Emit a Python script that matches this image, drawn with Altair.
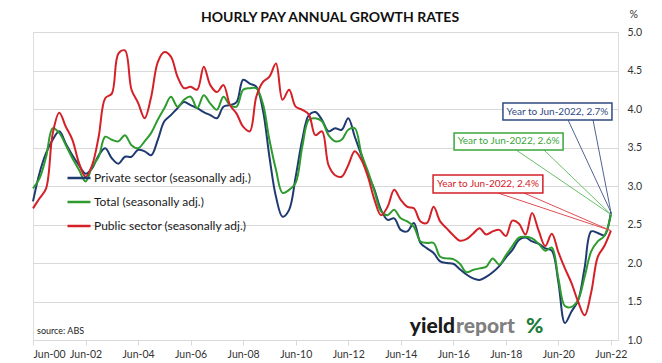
import altair as alt
import pandas as pd

# ---------------- data ----------------
series_names = [
    "Private sector (seasonally adj.)",
    "Total (seasonally adj.)",
    "Public sector (seasonally adj.)",
]
series_colors = ["#1F3A70", "#2E9B2E", "#D42027"]

# quarters, in years after Jun-2000 (Jun-00 ... Jun-22)
quarters = [i / 4 for i in range(89)]

private = [
    2.80, 3.17, 3.43, 3.60,
    3.71, 3.55, 3.40, 3.27,
    3.16, 3.23, 3.40, 3.49,
    3.36, 3.29, 3.38, 3.38,
    3.47, 3.45, 3.40, 3.60,
    3.84, 3.92, 4.01, 4.09,
    4.05, 4.01, 3.96, 3.92,
    3.88, 4.03, 4.05, 4.09,
    4.38, 4.33, 4.29, 3.99,
    3.38, 2.86, 2.60, 2.69,
    3.12, 3.60, 3.92, 3.96,
    3.86, 3.71, 3.75, 3.73,
    3.88, 3.64, 3.40, 3.16,
    2.95, 2.69, 2.56, 2.58,
    2.43, 2.41, 2.52, 2.26,
    2.19, 2.13, 2.02, 2.00,
    1.99, 1.92, 1.85, 1.80,
    1.78, 1.82, 1.88, 1.96,
    2.07, 2.17, 2.30, 2.33,
    2.28, 2.25, 2.19, 2.16,
    1.75, 1.22, 1.37, 1.51,
    1.94, 2.41, 2.39, 2.36,
    2.66,
]
total = [
    2.97, 3.10, 3.38, 3.75,
    3.69, 3.53, 3.36, 3.21,
    3.06, 3.25, 3.38, 3.64,
    3.60, 3.58, 3.66, 3.53,
    3.49, 3.58, 3.69, 3.86,
    4.01, 4.16, 4.03, 4.12,
    4.16, 4.01, 4.18, 4.07,
    3.99, 4.16, 4.05, 4.03,
    4.25, 4.27, 4.27, 4.07,
    3.60, 3.21, 2.91, 2.95,
    3.04, 3.51, 3.86, 3.88,
    3.84, 3.66, 3.58, 3.60,
    3.73, 3.75, 3.42, 3.19,
    2.93, 2.67, 2.62, 2.69,
    2.58, 2.54, 2.47, 2.28,
    2.26, 2.26, 2.08, 2.06,
    2.05, 1.99, 1.88, 1.91,
    1.93, 1.95, 2.06, 1.98,
    2.10, 2.22, 2.33, 2.34,
    2.32, 2.25, 2.16, 2.20,
    1.80, 1.44, 1.43, 1.52,
    1.82, 2.15, 2.28, 2.35,
    2.63,
]
public = [
    2.71, 2.84, 2.97, 3.68,
    3.95, 3.77, 3.60, 3.30,
    3.12, 3.27, 3.64, 4.14,
    4.20, 4.72, 4.76, 4.25,
    4.08, 3.88, 4.16, 4.61,
    4.74, 4.68, 4.42, 4.27,
    4.29, 4.25, 4.55, 4.31,
    4.22, 4.31, 4.05, 3.94,
    3.77, 3.71, 4.16, 4.35,
    4.42, 4.59, 4.12, 4.25,
    4.03, 3.99, 3.93, 3.66,
    3.71, 3.27, 3.14, 3.12,
    3.27, 3.45, 3.34, 3.12,
    2.82, 2.62, 2.73, 2.95,
    2.82, 2.73, 2.71, 2.54,
    2.52, 2.73, 2.54, 2.45,
    2.36, 2.29, 2.31, 2.38,
    2.45, 2.37, 2.41, 2.43,
    2.35, 2.55, 2.51, 2.37,
    2.65, 2.42, 2.22, 2.38,
    2.14, 1.93, 1.74, 1.50,
    1.32, 1.62, 2.08, 2.22,
    2.42,
]

x_ticks = [0, 2, 4, 6, 8, 10, 12, 14, 16, 18, 20, 22]
y_ticks = [1.0, 1.5, 2.0, 2.5, 3.0, 3.5, 4.0, 4.5, 5.0]

title_text = "HOURLY PAY ANNUAL GROWTH RATES"
ann_labels = ["Year to Jun-2022, 2.7%", "Year to Jun-2022, 2.6%", "Year to Jun-2022, 2.4%"]
ann_colors = ["#2F4A80", "#3AA63A", "#D42027"]
ann_lead_colors = ["#4F6494", "#6CBF6C", "#E05055"]
# annotation box layout (data units)
box_x = [17.89, 16.03, 15.23]
box_x2 = [22.04, 20.18, 19.41]
box_y = [4.078, 3.688, 3.143]
box_y2 = [3.857, 3.468, 2.909]
lead_x_a = [20.37, 18.39, 17.70]
lead_x_b = [21.32, 19.45, 18.69]

# ---------------- frames ----------------
rows = []
for name, vals in zip(series_names, [private, total, public]):
    for t, v in zip(quarters, vals):
        rows.append({"t": t, "v": v, "series": name})
df = pd.DataFrame(rows)

last_vals = [private[-1], total[-1], public[-1]]
boxes = pd.DataFrame({
    "label": ann_labels, "color": ann_colors,
    "x": box_x, "x2": box_x2, "y": box_y, "y2": box_y2,
    "cx": [(a + b) / 2 for a, b in zip(box_x, box_x2)],
    "cy": [(a + b) / 2 for a, b in zip(box_y, box_y2)],
})
leads = []
for i in range(3):
    for lx in (lead_x_a[i], lead_x_b[i]):
        leads.append({"k": f"{i}-{lx}", "color": ann_lead_colors[i],
                      "x": lx, "y": box_y2[i], "x2": quarters[-1], "y2": last_vals[i]})
leads = pd.DataFrame(leads)

FONT = "Lato"

x_scale = alt.Scale(domain=[0, 22.27], nice=False, zero=False)
y_scale = alt.Scale(domain=[1, 5], nice=False, zero=False)

x_axis = alt.Axis(
    values=x_ticks, tickCount=30, grid=False, domain=False, ticks=True, tickSize=5,
    tickColor="#D9D9D9", labelPadding=4, labelFontSize=10.5, labelFont=FONT,
    labelColor="#333333", title=None, labelOverlap=False,
    labelExpr="'Jun-' + (datum.value < 10 ? '0' : '') + datum.value")
y_axis = alt.Axis(
    orient="right", values=y_ticks, tickCount=30, format=".1f", grid=True,
    gridColor="#D9D9D9", domain=False, ticks=False, labelPadding=9,
    labelFontSize=10.5, labelFont=FONT, labelColor="#333333", labelOverlap=False,
    title="%", titleAngle=0, titleAlign="left", titleBaseline="middle",
    titleX=11, titleY=-18, titleFontWeight="normal", titleFontSize=10.5,
    titleFont=FONT, titleColor="#333333")

lines = alt.Chart(df).mark_line(interpolate="catmull-rom", strokeWidth=2).encode(
    x=alt.X("t:Q", scale=x_scale, axis=x_axis),
    y=alt.Y("v:Q", scale=y_scale, axis=y_axis),
    color=alt.Color("series:N", scale=alt.Scale(domain=series_names, range=series_colors),
                    sort=series_names,
                    legend=alt.Legend(orient="none", legendX=33, legendY=133, title=None,
                                      symbolType="stroke", symbolSize=529,
                                      symbolStrokeWidth=2.5, labelFontSize=12,
                                      labelFont=FONT, labelColor="#1A1A1A",
                                      labelLimit=400, rowPadding=5, padding=0,
                                      labelOffset=2)),
)

lead_rules = alt.Chart(leads).mark_rule(strokeWidth=1).encode(
    x=alt.X("x:Q", scale=x_scale, axis=x_axis),
    y=alt.Y("y:Q", scale=y_scale, axis=y_axis),
    x2="x2:Q", y2="y2:Q",
    color=alt.Color("color:N", scale=None),
    detail="k:N",
)

box_rects = alt.Chart(boxes).mark_rect(fill="white", strokeWidth=1.5).encode(
    x=alt.X("x:Q", scale=x_scale, axis=x_axis),
    y=alt.Y("y:Q", scale=y_scale, axis=y_axis),
    x2="x2:Q", y2="y2:Q",
    stroke=alt.Stroke("color:N", scale=None),
)

box_text = alt.Chart(boxes).mark_text(font=FONT, fontSize=10, align="center",
                                      baseline="middle").encode(
    x=alt.X("cx:Q", scale=x_scale, axis=x_axis),
    y=alt.Y("cy:Q", scale=y_scale, axis=y_axis),
    text="label:N",
    color=alt.Color("color:N", scale=None),
)

title_mark = alt.Chart(pd.DataFrame({"label": [title_text]})).mark_text(
    font=FONT, fontSize=14, fontWeight="bold", align="center", baseline="middle",
    color="#111111").encode(x=alt.value(297), y=alt.value(-14), text="label:N")

source = alt.Chart(pd.DataFrame({"label": ["source: ABS"]})).mark_text(
    font=FONT, fontSize=9, align="left", baseline="middle", color="#222222"
).encode(x=alt.value(4), y=alt.value(299), text="label:N")

logo_a = alt.Chart(pd.DataFrame({"label": ["yield"]})).mark_text(
    font=FONT, fontSize=21, fontWeight=900, align="right", baseline="alphabetic",
    color="#1A1A1A").encode(x=alt.value(422), y=alt.value(301), text="label:N")
logo_b = alt.Chart(pd.DataFrame({"label": ["report"]})).mark_text(
    font=FONT, fontSize=21, fontWeight=900, align="left", baseline="alphabetic",
    color="#7F7F7F").encode(x=alt.value(423), y=alt.value(301), text="label:N")
logo_c = alt.Chart(pd.DataFrame({"label": ["%"]})).mark_text(
    font=FONT, fontSize=21, fontWeight=900, align="left", baseline="alphabetic",
    color="#1E7B3A").encode(x=alt.value(493), y=alt.value(301), text="label:N")

chart = alt.layer(
    lines, lead_rules, box_rects, box_text, title_mark, source, logo_a, logo_b, logo_c
).properties(
    width=585, height=308,
    autosize=alt.AutoSizeParams(type="none"),
    padding={"left": 25, "top": 24, "right": 36, "bottom": 20},
).configure_view(stroke="#D0D0D0", strokeWidth=1.5).configure(background="white")

chart.save("out.html", embed_options={"renderer": "svg", "actions": False})
